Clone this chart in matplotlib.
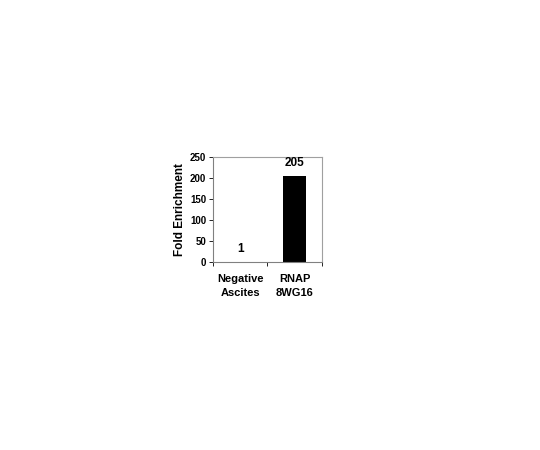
import matplotlib.pyplot as plt
import numpy as np

categories = ['Negative\nAscites', 'RNAP\n8WG16']
values = [1, 205]
labels = ['1', '205']
yticks = [0, 50, 100, 150, 200, 250]

plt.rcParams['font.family'] = ['Liberation Sans', 'DejaVu Sans']
plt.rcParams['font.weight'] = 'bold'

fig = plt.figure(figsize=(5.4, 4.5), dpi=100)
ax = fig.add_axes([0.3944, 0.4178, 0.2019, 0.2333])

x = np.arange(len(categories))
ax.bar(x, values, width=0.42, color='black')
for xi, v, lab in zip(x, values, labels):
    ax.annotate(lab, (xi, v), xytext=(0, 5), textcoords='offset points',
                ha='center', va='bottom', fontsize=8.5, fontweight='bold')

ax.set_xlim(-0.5, 1.5)
ax.set_ylim(0, 250)
ax.set_yticks(yticks)
ax.set_yticklabels([str(t) for t in yticks], fontsize=7, fontweight='bold')
ax.set_ylabel('Fold Enrichment', fontsize=8.5, fontweight='bold', labelpad=3)

# excel style: ticks between categories, labels centred under bars
ax.set_xticks([-0.5, 0.5, 1.5])
ax.set_xticklabels([])
ax.set_xticks(x, minor=True)
ax.set_xticklabels(categories, minor=True, fontsize=8, fontweight='bold',
                   linespacing=1.5)
ax.tick_params(axis='x', which='minor', length=0, pad=9)
ax.tick_params(axis='x', which='major', length=3, width=0.6, direction='out')
ax.tick_params(axis='y', length=3, width=0.6, direction='out', pad=2)

for s in ['top', 'right']:
    ax.spines[s].set_color('#a0a0a0')
    ax.spines[s].set_linewidth(0.8)
for s in ['left', 'bottom']:
    ax.spines[s].set_color('#808080')
    ax.spines[s].set_linewidth(0.8)

fig.savefig('out.png', dpi=100)
